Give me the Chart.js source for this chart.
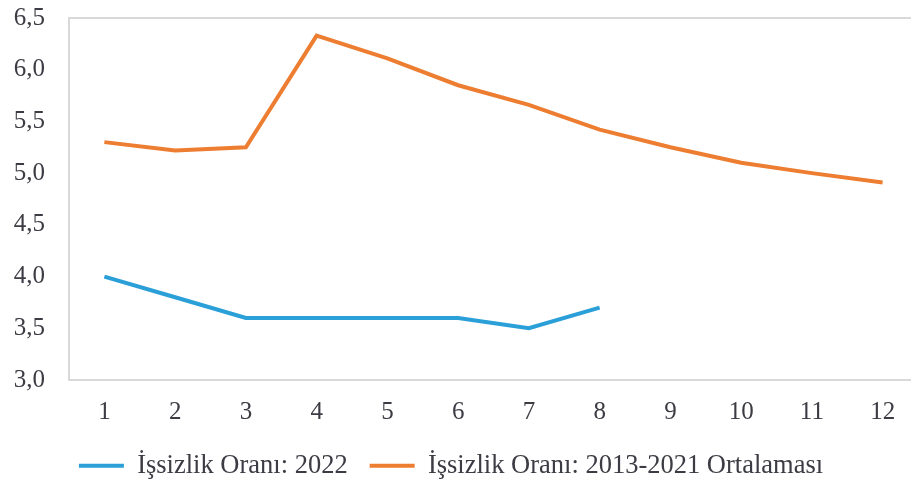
<!DOCTYPE html>
<html>
<head>
<meta charset="utf-8">
<script src="https://cdn.jsdelivr.net/npm/chart.js@4"></script>
<style>
  html, body { margin: 0; padding: 0; background: #fff; overflow: hidden; }
  #wrap { position: relative; width: 918px; height: 482px; }
</style>
</head>
<body>
<div id="wrap"><canvas id="c" width="918" height="482"></canvas></div>
<script>
const months = ['1', '2', '3', '4', '5', '6', '7', '8', '9', '10', '11', '12'];
const unemployment2022 = [4.0, 3.8, 3.6, 3.6, 3.6, 3.6, 3.5, 3.7, null, null, null, null];
const unemploymentAvg2013_2021 = [5.30, 5.22, 5.25, 6.33, 6.11, 5.85, 5.66, 5.42, 5.25, 5.10, 5.00, 4.91];
const seriesNames = ['İşsizlik Oranı: 2022', 'İşsizlik Oranı: 2013-2021 Ortalaması'];
const yMin = 3.0, yMax = 6.5, yStep = 0.5;

const BLUE = '#2A9FD8';
const ORANGE = '#ED7D31';
const AXIS = '#D9D9D9';
const TEXT = '#3c3c44';
const FONT = "'Liberation Serif', 'Times New Roman', serif";

// nudge the legend box a little (left and down) after layout
const legendNudge = {
  id: 'legendNudge',
  afterLayout(chart) {
    const lg = chart.legend;
    if (!lg) return;
    lg.left -= 8; lg.right -= 8;
    lg.top += 7; lg.bottom += 7;
  }
};

new Chart(document.getElementById('c'), {
  type: 'line',
  data: {
    labels: months,
    datasets: [
      { label: seriesNames[0], data: unemployment2022, borderColor: BLUE, backgroundColor: BLUE,
        borderWidth: 4, pointRadius: 0, tension: 0, spanGaps: false },
      { label: seriesNames[1], data: unemploymentAvg2013_2021, borderColor: ORANGE, backgroundColor: ORANGE,
        borderWidth: 4, pointRadius: 0, tension: 0 }
    ]
  },
  plugins: [legendNudge],
  options: {
    responsive: false,
    animation: false,
    layout: { padding: { top: 18, left: 0, right: 0, bottom: 0 } },
    plugins: {
      tooltip: { enabled: false },
      legend: {
        position: 'bottom',
        labels: {
          font: { family: FONT, size: 26.5 },
          color: TEXT,
          boxWidth: 45,
          boxHeight: 4,
          padding: 22,
          generateLabels: (chart) => Chart.defaults.plugins.legend.labels.generateLabels(chart)
            .map(l => Object.assign(l, { lineWidth: 0, fillStyle: l.strokeStyle }))
        }
      }
    },
    scales: {
      x: {
        offset: true,
        grid: { display: false, drawTicks: false },
        border: { display: true, color: AXIS, width: 2 },
        ticks: { font: { family: FONT, size: 25 }, color: TEXT, padding: 17, maxRotation: 0 },
        afterFit: (s) => { s.height = 43.5; s.paddingLeft = 0; s.paddingRight = 0; }
      },
      y: {
        min: yMin, max: yMax,
        grid: { drawTicks: false, lineWidth: 2,
                color: (ctx) => (ctx.tick && ctx.tick.value === yMax) ? AXIS : 'rgba(0,0,0,0)' },
        border: { display: true, color: AXIS, width: 2 },
        ticks: { stepSize: yStep, font: { family: FONT, size: 25 }, color: TEXT, padding: 24,
                 callback: (v) => Number(v).toFixed(1).replace('.', ',') },
        afterFit: (s) => { s.width = 69; s.paddingTop = 0; s.paddingBottom = 0; }
      }
    }
  }
});
</script>
</body>
</html>
